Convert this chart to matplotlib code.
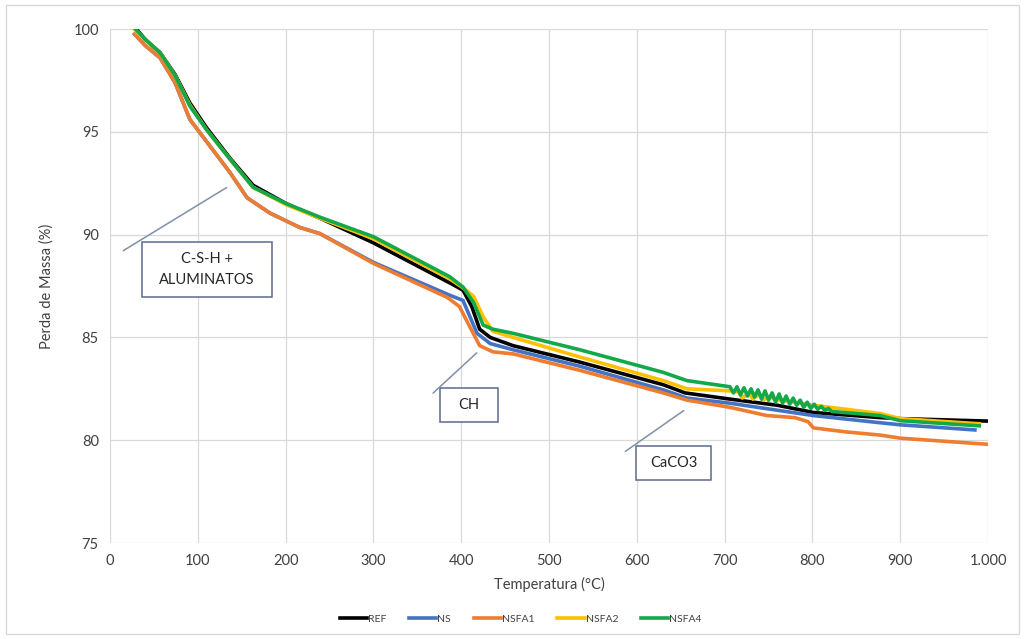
import matplotlib
matplotlib.use("Agg")
import matplotlib.pyplot as plt
import matplotlib.patches as mpatches
from matplotlib.ticker import FuncFormatter

# ---- data ----
t_ref = [30, 40, 57, 74, 91, 110, 137, 163, 201, 239, 300, 387, 402, 412, 421, 433,
         459, 535, 630, 655, 706, 760, 801, 877, 900, 1000]
m_ref = [100.0, 99.5, 98.85, 97.8, 96.4, 95.2, 93.7, 92.4, 91.5, 90.8, 89.6, 87.65, 87.3,
         86.5, 85.4, 85.0, 84.6, 83.8, 82.7, 82.3, 82.0, 81.7, 81.35, 81.1, 81.05, 80.93]

t_ns = [28, 40, 57, 74, 91, 114, 137, 156, 182, 216, 239, 300, 387, 402, 418, 433,
        459, 535, 630, 657, 706, 801, 877, 900, 985]
m_ns = [99.75, 99.2, 98.6, 97.4, 95.6, 94.3, 93.0, 91.8, 91.05, 90.35, 90.05, 88.65,
        87.05, 86.8, 85.2, 84.7, 84.4, 83.6, 82.45, 82.05, 81.8, 81.2, 80.85, 80.75, 80.5]

t_fa1 = [28, 40, 57, 74, 91, 114, 137, 156, 182, 216, 239, 300, 384, 398, 410, 421,
         436, 459, 535, 630, 657, 706, 748, 780, 795, 801, 839, 877, 900, 1000]
m_fa1 = [99.75, 99.2, 98.6, 97.4, 95.6, 94.3, 93.0, 91.8, 91.05, 90.35, 90.05, 88.6,
         86.95, 86.5, 85.5, 84.6, 84.3, 84.2, 83.4, 82.3, 81.95, 81.6, 81.2, 81.1, 80.9,
         80.6, 80.4, 80.25, 80.1, 79.8]

t_fa2 = [25, 40, 57, 74, 91, 110, 137, 163, 201, 239, 300, 387, 404, 414, 425, 436,
         459, 535, 630, 657, 706, 716, 720, 728, 732, 740, 744, 752, 756, 801, 877,
         900, 990]
m_fa2 = [100.1, 99.5, 98.85, 97.75, 96.3, 95.1, 93.65, 92.3, 91.45, 90.8, 89.8, 87.85,
         87.35, 87.0, 86.0, 85.3, 85.0, 84.05, 82.9, 82.5, 82.4, 82.35, 82.05, 82.3,
         82.0, 82.25, 81.95, 82.15, 82.0, 81.7, 81.3, 81.05, 80.8]

t_fa4 = [28, 40, 57, 74, 91, 110, 137, 163, 201, 239, 300, 387, 402, 414, 425, 436,
         459, 535, 630, 657, 706, 710, 714, 718, 722, 726, 730, 734, 738, 742, 746,
         750, 754, 758, 762, 766, 770, 774, 778, 782, 786, 790, 794, 798, 802, 806,
         810, 814, 818, 822, 877, 900, 990]
m_fa4 = [100.05, 99.5, 98.85, 97.75, 96.25, 95.1, 93.65, 92.3, 91.5, 90.85, 89.9, 87.95,
         87.45, 86.7, 85.6, 85.4, 85.2, 84.4, 83.3, 82.9, 82.6, 82.3, 82.6, 82.2, 82.55,
         82.15, 82.5, 82.1, 82.45, 82.0, 82.4, 81.95, 82.3, 81.85, 82.25, 81.8, 82.15,
         81.75, 82.05, 81.7, 81.95, 81.6, 81.85, 81.55, 81.75, 81.5, 81.65, 81.45, 81.55,
         81.4, 81.2, 80.95, 80.7]

series = [
    ("REF", t_ref, m_ref, "#000000"),
    ("NS", t_ns, m_ns, "#4472C4"),
    ("NSFA1", t_fa1, m_fa1, "#ED7D31"),
    ("NSFA2", t_fa2, m_fa2, "#FFC000"),
    ("NSFA4", t_fa4, m_fa4, "#13A84A"),
]

# annotations: text, box (x0, y0, x1, y1), line (x_start, y_start, x_end, y_end)
notes = [
    ("C-S-H +\nALUMINATOS", (36, 86.96, 184.5, 89.64), (135.5, 92.36, 12.5, 89.15)),
    ("CH", (376, 80.89, 442, 82.54), (420, 84.34, 365.6, 82.2)),
    ("CaCO3", (599, 78.06, 684.5, 79.72), (656, 81.52, 584.3, 79.38)),
]

plt.rcParams["font.family"] = ["Lato", "DejaVu Sans"]

fig = plt.figure(figsize=(10.25, 6.39), dpi=100)
ax = fig.add_axes([0.1073, 0.1502, 0.8567, 0.8044])

for name, t, m, c in series:
    ax.plot(t, m, color=c, lw=2.6, label=name, solid_joinstyle="round")

ax.set_xlim(0, 1000)
ax.set_ylim(75, 100)
ax.set_xticks(range(0, 1001, 100))
ax.set_yticks(range(75, 101, 5))
ax.xaxis.set_major_formatter(FuncFormatter(lambda v, p: f"{int(v):,}".replace(",", ".")))
ax.grid(True, color="#d9d9d9", lw=0.9)
ax.set_axisbelow(True)
for s in ax.spines.values():
    s.set_visible(False)
ax.tick_params(length=0, labelsize=10.5, colors="#404040", pad=8)

ax.set_xlabel("Temperatura (°C)", fontsize=10.5, color="#404040", labelpad=6)
ax.set_ylabel("Perda de Massa (%)", fontsize=10.5, color="#404040", labelpad=14)

for txt, (x0, y0, x1, y1), (lx0, ly0, lx1, ly1) in notes:
    ax.add_patch(mpatches.Rectangle((x0, y0), x1 - x0, y1 - y0, fill=True,
                                    facecolor="white", edgecolor="#5B6B8C", lw=1.1,
                                    zorder=5))
    ax.text((x0 + x1) / 2, (y0 + y1) / 2, txt, ha="center", va="center",
            fontsize=10.5, color="#262626", linespacing=1.6, zorder=6)
    ax.annotate("", xy=(lx1, ly1), xytext=(lx0, ly0),
                arrowprops=dict(arrowstyle="-", color="#7F8FA9", lw=1.1), zorder=5)

leg = fig.legend(loc="center", bbox_to_anchor=(0.508, 0.031), ncol=5, frameon=False,
                 fontsize=7.5, handlelength=2.6, handletextpad=0.1, columnspacing=2.2)
for t in leg.get_texts():
    t.set_color("#404040")

fig.add_artist(mpatches.Rectangle((0.006, 0.008), 0.988, 0.984, transform=fig.transFigure,
                                  fill=False, edgecolor="#d9d9d9", lw=1))

fig.savefig("out.png", dpi=100)
